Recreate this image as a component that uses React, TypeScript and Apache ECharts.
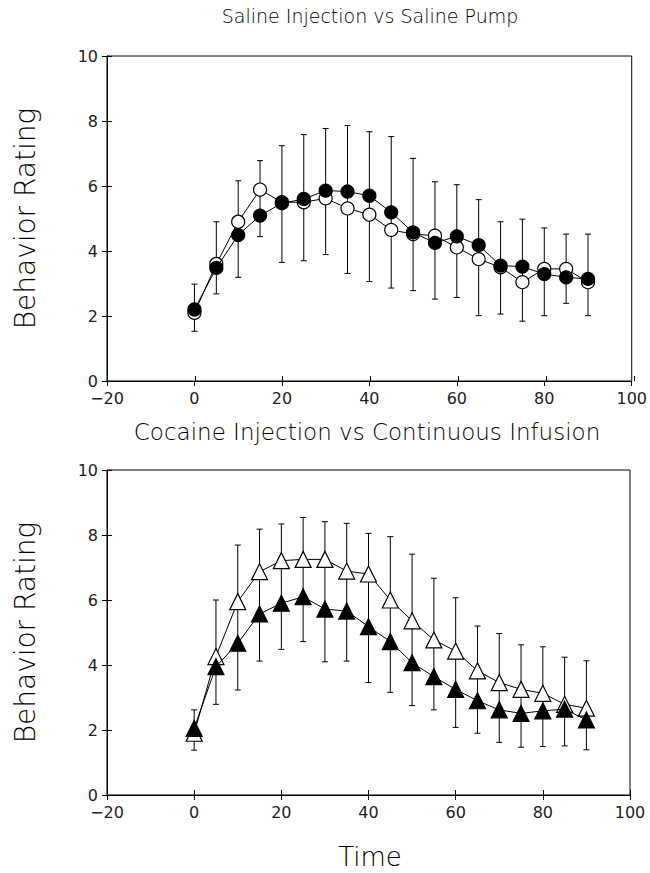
import React, { useEffect, useRef } from "react";
import * as echarts from "echarts";

const times = [0, 5, 10, 15, 20, 25, 30, 35, 40, 45, 50, 55, 60, 65, 70, 75, 80, 85, 90];

// Top panel: Saline Injection vs Saline Pump
const salineOpen = [2.1, 3.6, 4.9, 5.89, 5.5, 5.5, 5.62, 5.31, 5.12, 4.65, 4.52, 4.47, 4.11, 3.75, 3.5, 3.04, 3.45, 3.45, 3.04];
const salineClosed = [2.2, 3.48, 4.49, 5.09, 5.47, 5.6, 5.86, 5.83, 5.7, 5.19, 4.57, 4.25, 4.45, 4.18, 3.55, 3.52, 3.29, 3.19, 3.14];
const salineErrHigh = [2.98, 4.9, 6.16, 6.78, 7.24, 7.58, 7.77, 7.86, 7.67, 7.52, 6.85, 6.13, 6.04, 5.58, 4.9, 4.98, 4.71, 4.52, 4.52];
const salineErrLow = [1.53, 2.68, 3.19, 4.44, 3.65, 3.7, 3.89, 3.31, 3.06, 2.86, 2.78, 2.52, 2.57, 2.01, 2.06, 1.84, 2.01, 2.39, 2.01];

// Bottom panel: Cocaine Injection vs Continuous Infusion
const cocaineOpen = [1.9, 4.26, 5.95, 6.87, 7.21, 7.25, 7.25, 6.89, 6.8, 6.0, 5.36, 4.77, 4.43, 3.82, 3.46, 3.25, 3.13, 2.79, 2.67];
const cocaineClosed = [2.05, 3.95, 4.67, 5.57, 5.9, 6.1, 5.72, 5.66, 5.18, 4.72, 4.07, 3.64, 3.25, 2.9, 2.62, 2.51, 2.59, 2.64, 2.31];
const cocaineErrHigh = [2.62, 6.0, 7.69, 8.18, 8.34, 8.54, 8.41, 8.36, 8.05, 7.95, 7.41, 6.67, 6.07, 5.2, 4.97, 4.62, 4.56, 4.24, 4.13];
const cocaineErrLow = [1.38, 2.79, 3.23, 4.12, 4.48, 4.72, 4.1, 4.12, 3.46, 3.16, 2.75, 2.62, 2.08, 1.9, 1.62, 1.47, 1.49, 1.51, 1.39];

const titleTop = "Saline Injection vs Saline Pump";
const titleBottom = "Cocaine Injection vs Continuous Infusion";
const yName = "Behavior Rating";
const xName = "Time";

const FONT = "'DejaVu Sans', sans-serif";

export default function App() {
  const ref = useRef<HTMLDivElement>(null);
  useEffect(() => {
    if (!ref.current) return;
    const chart = echarts.init(ref.current, null, { renderer: "svg" });

    const grids = [
      { left: 107, top: 56, width: 527, height: 325 },
      { left: 107, top: 56, width: 527, height: 325 },
      { left: 107, top: 470, width: 523, height: 325 },
      { left: 107, top: 470, width: 523, height: 325 },
    ].map((g, i) => ({
      ...g,
      show: i % 2 === 0,
      borderColor: "#000",
      borderWidth: 1,
      backgroundColor: "transparent",
    }));

    const labelFmt = (v: number) => String(v).replace("-", "\u2212");

    const xAxes = grids.map((_, i) => ({
      type: "value",
      gridIndex: i,
      min: -20,
      max: 100,
      interval: 20,
      position: "bottom",
      axisLine: { show: i % 2 === 0, onZero: false, lineStyle: { color: "#000", width: 1 } },
      axisTick: { show: true, inside: i % 2 === 1, length: 5, lineStyle: { color: "#000", width: 1 } },
      axisLabel: {
        show: i % 2 === 0,
        color: "#222",
        fontSize: 16,
        fontFamily: FONT,
        margin: 9,
        formatter: labelFmt,
      },
      splitLine: { show: false },
    }));

    const yAxes = grids.map((_, i) => ({
      type: "value",
      gridIndex: i,
      min: 0,
      max: 10,
      interval: 2,
      position: "left",
      name: i % 2 === 0 ? yName : "",
      nameLocation: "middle",
      nameGap: 68,
      nameTextStyle: { fontSize: 28, color: "#000", fontFamily: FONT, fontWeight: 200 },
      axisLine: { show: i % 2 === 0, onZero: false, lineStyle: { color: "#000", width: 1 } },
      axisTick: { show: true, inside: i % 2 === 1, length: 5, lineStyle: { color: "#000", width: 1 } },
      axisLabel: {
        show: i % 2 === 0,
        color: "#222",
        fontSize: 16,
        fontFamily: FONT,
        margin: 9,
      },
      splitLine: { show: false },
    }));

    const errSeries = (low: number[], high: number[], idx: number) => ({
      type: "custom",
      xAxisIndex: idx,
      yAxisIndex: idx,
      z: 1,
      data: times.map((t, i) => [t, low[i], high[i]]),
      encode: { x: 0, y: [1, 2] },
      renderItem: (params: any, api: any) => {
        const x = api.value(0);
        const lo = api.coord([x, api.value(1)]);
        const hi = api.coord([x, api.value(2)]);
        const cap = 3;
        const style = { stroke: "#000", lineWidth: 1 };
        return {
          type: "group",
          children: [
            { type: "line", shape: { x1: lo[0], y1: lo[1], x2: hi[0], y2: hi[1] }, style },
            { type: "line", shape: { x1: hi[0] - cap, y1: hi[1], x2: hi[0] + cap, y2: hi[1] }, style },
            { type: "line", shape: { x1: lo[0] - cap, y1: lo[1], x2: lo[0] + cap, y2: lo[1] }, style },
          ],
        };
      },
    });

    const lineSeries = (vals: number[], idx: number, symbol: string, size: number, filled: boolean, z: number) => ({
      type: "line",
      xAxisIndex: idx,
      yAxisIndex: idx,
      z,
      data: times.map((t, i) => [t, vals[i]]),
      symbol,
      symbolSize: size,
      showSymbol: true,
      lineStyle: { color: "#000", width: 1 },
      itemStyle: { color: filled ? "#000" : "#fff", borderColor: "#000", borderWidth: 1.2 },
      emphasis: { disabled: true },
    });

    chart.setOption({
      animation: false,
      backgroundColor: "#fff",
      grid: grids,
      xAxis: xAxes,
      yAxis: yAxes,
      graphic: [
        {
          type: "text",
          x: 370,
          y: 16,
          style: { text: titleTop, font: `200 19px ${FONT}`, fill: "#000", align: "center", verticalAlign: "middle" },
        },
        {
          type: "text",
          x: 367,
          y: 432,
          style: { text: titleBottom, font: `200 23px ${FONT}`, fill: "#000", align: "center", verticalAlign: "middle" },
        },
        {
          type: "text",
          x: 370,
          y: 857,
          style: { text: xName, font: `200 26px ${FONT}`, fill: "#000", align: "center", verticalAlign: "middle" },
        },
      ],
      series: [
        errSeries(salineErrLow, salineErrHigh, 0),
        lineSeries(salineOpen, 0, "circle", 13, false, 3),
        lineSeries(salineClosed, 0, "circle", 13, true, 4),
        errSeries(cocaineErrLow, cocaineErrHigh, 2),
        lineSeries(cocaineOpen, 2, "triangle", 16, false, 3),
        lineSeries(cocaineClosed, 2, "triangle", 16, true, 4),
      ],
    });
    return () => chart.dispose();
  }, []);
  return (
    <div
      ref={ref}
      style={{ position: "fixed", left: 0, top: 0, width: 650, height: 873, background: "#fff" }}
    />
  );
}
